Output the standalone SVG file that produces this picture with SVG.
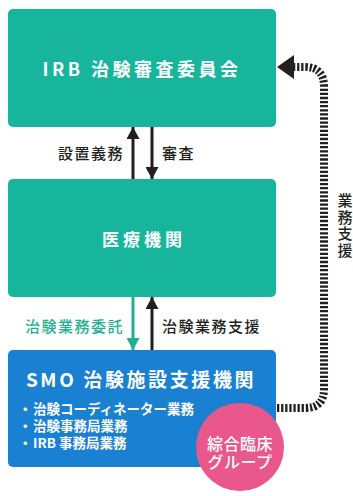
<svg xmlns="http://www.w3.org/2000/svg" width="353" height="496" viewBox="0 0 353 496">
<defs>
<style>
text{font-family:"Noto Sans CJK JP","Noto Sans",sans-serif;}
.box-teal{fill:#17b59b;}
.box-blue{fill:#1a80d2;}
.title{fill:#fff;font-weight:700;text-anchor:middle;}
.lbl{fill:#231f20;font-size:15px;font-weight:500;letter-spacing:1.5px;}
.lbl-g{fill:#1cb290;font-size:15px;font-weight:500;letter-spacing:1.5px;}
.item{fill:#fff;font-size:13.5px;font-weight:700;}
.shaft{stroke:#231f20;stroke-width:3;fill:none;}
.shaft-g{stroke:#1cb290;stroke-width:3;fill:none;}
.dots{stroke:#231f20;stroke-width:8;fill:none;stroke-dasharray:2.3 1.8;}
</style>
<marker id="ah" viewBox="0 0 12 13" refX="12" refY="6.5" markerWidth="12" markerHeight="13" markerUnits="userSpaceOnUse" orient="auto"><path d="M0,0 L12,6.5 L0,13 z" fill="#231f20"/></marker>
<marker id="ahg" viewBox="0 0 12 13" refX="12" refY="6.5" markerWidth="12" markerHeight="13" markerUnits="userSpaceOnUse" orient="auto"><path d="M0,0 L12,6.5 L0,13 z" fill="#1cb290"/></marker>
</defs>
<rect width="353" height="496" fill="#fff"/>

<g id="irb">
<rect class="box-teal" x="8" y="9" width="268" height="118" rx="5"/>
<text class="title" x="142" y="76" font-size="18" letter-spacing="3.5">IRB 治験審査委員会</text>
</g>

<g id="medical">
<rect class="box-teal" x="8" y="179" width="268" height="118" rx="5"/>
<text class="title" x="144" y="246" font-size="17" font-weight="500" letter-spacing="4">医療機関</text>
</g>

<g id="smo">
<rect class="box-blue" x="8" y="350" width="268" height="117" rx="5"/>
<text class="title" x="141" y="387" font-size="19" letter-spacing="2.6">SMO 治験施設支援機関</text>
<text class="item"><tspan x="18.5" y="414">・</tspan><tspan x="33" y="414">治験コーディネーター業務</tspan><tspan x="18.5" y="431">・</tspan><tspan x="33" y="431">治験事務局業務</tspan><tspan x="18.5" y="448">・</tspan><tspan x="33" y="448">IRB 事務局業務</tspan></text>
</g>

<g id="group">
<circle cx="240" cy="447" r="44" fill="#e9578b"/>
<text fill="#fff" font-size="16" font-weight="500" text-anchor="middle" letter-spacing="0.5"><tspan x="240" y="450">綜合臨床</tspan><tspan x="240" y="468">グループ</tspan></text>
</g>

<g id="connectors">
<line class="shaft" x1="133" y1="179" x2="133" y2="127" marker-end="url(#ah)"/>
<line class="shaft" x1="152" y1="127" x2="152" y2="179" marker-end="url(#ah)"/>
<line class="shaft-g" x1="133" y1="297" x2="133" y2="350" marker-end="url(#ahg)"/>
<line class="shaft" x1="152" y1="350" x2="152" y2="297" marker-end="url(#ah)"/>
<path class="dots" d="M277 408 H305 Q324 408 324 389 V87 Q324 67 305 67 H292"/>
<polygon points="277,67 294,55 294,79" fill="#231f20"/>
<text class="lbl" x="124" y="159" text-anchor="end">設置義務</text>
<text class="lbl" x="162" y="159">審査</text>
<text class="lbl-g" x="124" y="332" text-anchor="end">治験業務委託</text>
<text class="lbl" x="162" y="332">治験業務支援</text>
<text class="lbl" x="345" y="193" style="writing-mode:vertical-rl" letter-spacing="1.5">業務支援</text>
</g>
</svg>
